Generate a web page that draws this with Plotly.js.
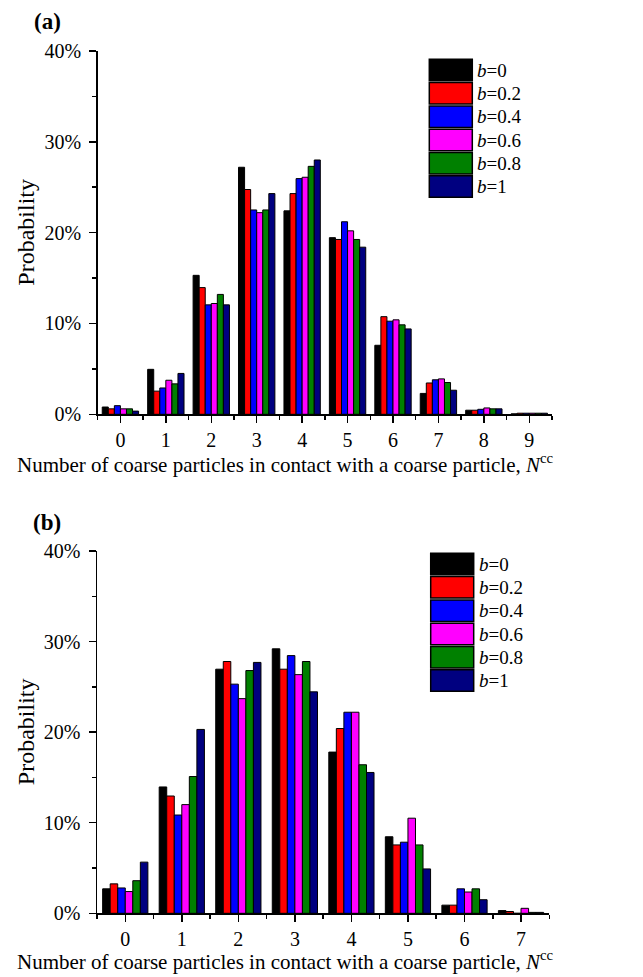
<!DOCTYPE html>
<html>
<head>
<meta charset="utf-8">
<script src="https://cdn.plot.ly/plotly-3.0.1.min.js"></script>
<style>html,body{margin:0;padding:0;background:#fff;}#chart{width:643px;height:977px;}</style>
</head>
<body>
<div id="chart"></div>
<script>
// ---- Data ----
const categoriesA = [0, 1, 2, 3, 4, 5, 6, 7, 8, 9];
const categoriesB = [0, 1, 2, 3, 4, 5, 6, 7];
const seriesLabels = ['b=0', 'b=0.2', 'b=0.4', 'b=0.6', 'b=0.8', 'b=1'];
const seriesColors = ['#000000', '#FF0000', '#0000FF', '#FF00FF', '#008000', '#000080'];

// Panel (a): probability (%) per N^cc
const a_b0  = [0.8, 4.95, 15.3, 27.2, 22.4, 19.45, 7.6, 2.3, 0.45, 0.05];
const a_b02 = [0.6, 2.55, 13.95, 24.75, 24.3, 19.25, 10.75, 3.45, 0.45, 0.12];
const a_b04 = [0.95, 2.9, 12.05, 22.5, 25.95, 21.2, 10.25, 3.8, 0.55, 0.12];
const a_b06 = [0.6, 3.75, 12.2, 22.2, 26.1, 20.2, 10.4, 3.9, 0.7, 0.12];
const a_b08 = [0.6, 3.35, 13.2, 22.5, 27.3, 19.25, 9.85, 3.5, 0.6, 0.12];
const a_b1  = [0.35, 4.5, 12.05, 24.3, 28.0, 18.4, 9.4, 2.65, 0.6, 0.12];

// Panel (b)
const b_b0  = [2.7, 13.95, 26.95, 29.2, 17.8, 8.45, 0.9, 0.3];
const b_b02 = [3.25, 12.95, 27.8, 26.95, 20.4, 7.55, 0.9, 0.2];
const b_b04 = [2.8, 10.85, 25.3, 28.45, 22.2, 7.85, 2.7, 0.0];
const b_b06 = [2.4, 12.0, 23.7, 26.35, 22.2, 10.5, 2.35, 0.55];
const b_b08 = [3.6, 15.1, 26.8, 27.8, 16.4, 7.55, 2.7, 0.1];
const b_b1  = [5.65, 20.3, 27.7, 24.45, 15.55, 4.9, 1.5, 0.1];

const seriesA = [a_b0, a_b02, a_b04, a_b06, a_b08, a_b1];
const seriesB = [b_b0, b_b02, b_b04, b_b06, b_b08, b_b1];

const yTickVals = [0, 10, 20, 30, 40];
const xTitleText = 'Number of coarse particles in contact with a coarse particle, <i>N</i><sup>cc</sup>';
const yTitleText = 'Probability';

// ---- Layout helpers ----
const W = 643, H = 977;
const FONT = 'Liberation Serif, Times New Roman, serif';
const px = v => v / W;
const py = v => 1 - v / H;

function legendHtml(lbl) {
  return lbl.replace('b=', '<i>b</i>=');
}

const traces = [];
seriesLabels.forEach((lbl, i) => {
  traces.push({
    type: 'bar', x: categoriesA, y: seriesA[i], name: lbl,
    xaxis: 'x', yaxis: 'y', showlegend: false,
    marker: {color: seriesColors[i], line: {color: '#000', width: 1}}
  });
  traces.push({
    type: 'bar', x: categoriesB, y: seriesB[i], name: lbl,
    xaxis: 'x2', yaxis: 'y2', showlegend: false,
    marker: {color: seriesColors[i], line: {color: '#000', width: 1}}
  });
});

function xAxis(domain, maxCat, anchor) {
  return {
    domain: domain, anchor: anchor, range: [-0.5, maxCat + 0.5],
    tickmode: 'linear', tick0: 0, dtick: 1,
    ticks: 'outside', ticklen: 7, tickwidth: 1.5, tickcolor: '#000',
    showline: true, linewidth: 1.5, linecolor: '#000',
    showgrid: false, zeroline: false,
    minor: {dtick: 0.5, tick0: 0, ticks: 'outside', ticklen: 4, tickwidth: 1.5, tickcolor: '#000', showgrid: false},
    tickfont: {family: FONT, size: 20, color: '#000'},
    fixedrange: true
  };
}
function yAxis(domain, anchor) {
  return {
    domain: domain, anchor: anchor, range: [0, 40],
    tickmode: 'array', tickvals: yTickVals, ticktext: yTickVals.map(v => v + '%'),
    ticks: 'outside', ticklen: 7, tickwidth: 1.5, tickcolor: '#000',
    ticklabelstandoff: 4,
    showline: true, linewidth: 1.5, linecolor: '#000',
    showgrid: false, zeroline: false,
    minor: {dtick: 5, tick0: 0, ticks: 'outside', ticklen: 4, tickwidth: 1.5, tickcolor: '#000', showgrid: false},
    tickfont: {family: FONT, size: 20, color: '#000'},
    fixedrange: true
  };
}

// plot areas in pixels
const panelA = {x0: 97.7, x1: 552, yTop: 51, yBot: 414.3, legX: 429.3, legY: 59.3, label: '(a)', labY: 22, xTitleY: 463};
const panelB = {x0: 97, x1: 549.3, yTop: 551, yBot: 913.3, legX: 430.7, legY: 553.3, label: '(b)', labY: 522, xTitleY: 960};

const shapes = [];
const annotations = [];
[panelA, panelB].forEach(p => {
  // legend boxes + labels
  seriesLabels.forEach((lbl, i) => {
    const top = p.legY + i * 23.3;
    shapes.push({
      type: 'rect', xref: 'paper', yref: 'paper',
      x0: px(p.legX), x1: px(p.legX + 43), y0: py(top + 21.5), y1: py(top),
      fillcolor: seriesColors[i], line: {color: '#000', width: 1.5}
    });
    annotations.push({
      xref: 'paper', yref: 'paper', x: px(p.legX + 46), y: py(top + 11),
      xanchor: 'left', yanchor: 'middle', showarrow: false,
      text: legendHtml(lbl), font: {family: FONT, size: 19, color: '#000'}
    });
  });
  // panel label
  annotations.push({
    xref: 'paper', yref: 'paper', x: px(47), y: py(p.labY), xanchor: 'center', yanchor: 'middle',
    showarrow: false, text: '<b>' + p.label + '</b>', font: {family: FONT, size: 23, color: '#000'}
  });
  // y title
  annotations.push({
    xref: 'paper', yref: 'paper', x: px(26), y: py((p.yTop + p.yBot) / 2), xanchor: 'center', yanchor: 'middle',
    showarrow: false, textangle: -90, text: yTitleText, font: {family: FONT, size: 24, color: '#000'}
  });
  // x title
  annotations.push({
    xref: 'paper', yref: 'paper', x: px(285), y: py(p.xTitleY), xanchor: 'center', yanchor: 'middle',
    showarrow: false, text: xTitleText, font: {family: FONT, size: 21, color: '#000'}
  });
});

const layout = {
  width: W, height: H,
  margin: {l: 0, r: 0, t: 0, b: 0},
  paper_bgcolor: '#fff', plot_bgcolor: 'rgba(0,0,0,0)',
  barmode: 'group', bargap: 0.2, bargroupgap: 0,
  showlegend: false,
  font: {family: FONT, size: 20, color: '#000'},
  xaxis: xAxis([px(panelA.x0), px(panelA.x1)], 9, 'y'),
  yaxis: yAxis([py(panelA.yBot), py(panelA.yTop)], 'x'),
  xaxis2: xAxis([px(panelB.x0), px(panelB.x1)], 7, 'y2'),
  yaxis2: yAxis([py(panelB.yBot), py(panelB.yTop)], 'x2'),
  shapes: shapes,
  annotations: annotations
};

Plotly.newPlot('chart', traces, layout, {displayModeBar: false, staticPlot: true});
</script>
</body>
</html>
